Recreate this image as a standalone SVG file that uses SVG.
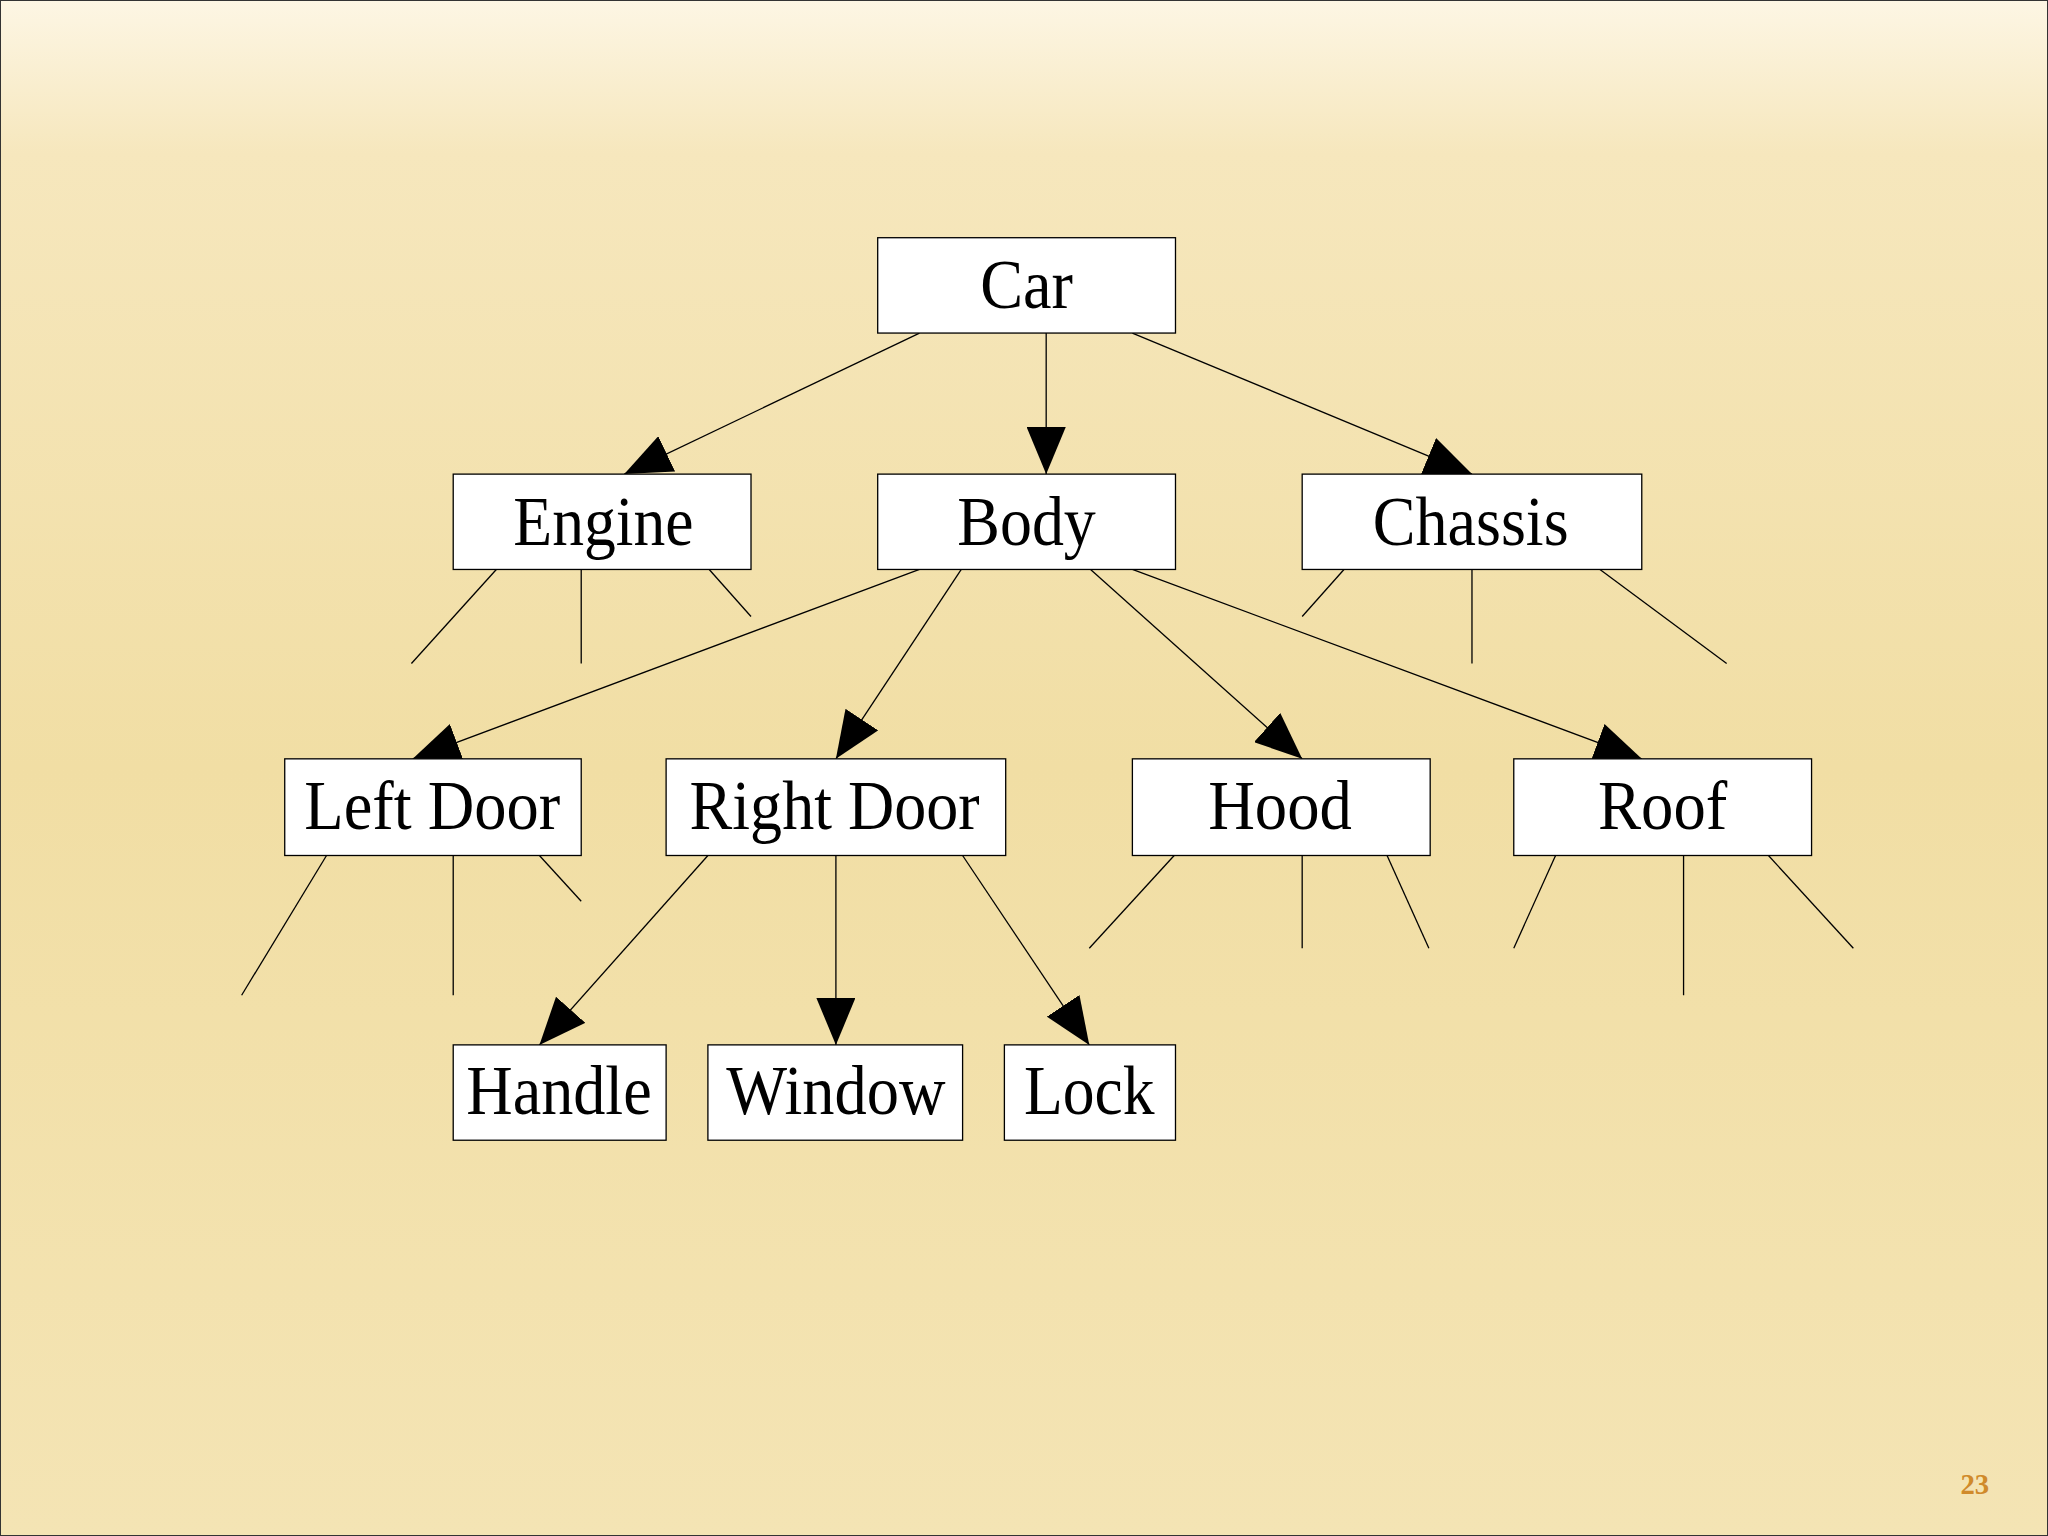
<svg xmlns="http://www.w3.org/2000/svg" width="2048" height="1536" viewBox="0 0 2048 1536">
<defs>
<linearGradient id="bg" x1="0" y1="0" x2="0" y2="1">
<stop offset="0" stop-color="#fdf6e4"/>
<stop offset="0.1" stop-color="#f6e7bd"/>
<stop offset="0.5" stop-color="#f1dea4"/>
<stop offset="1" stop-color="#f4e4b4"/>
</linearGradient>
<marker id="ah" markerUnits="userSpaceOnUse" markerWidth="36" markerHeight="30" refX="36" refY="15" orient="auto">
<path d="M0,0 L36,15 L0,30 Z" fill="#000"/>
</marker>
<style>
.n rect{fill:#fff;stroke:#000;stroke-width:1}
.n text{font-family:"Liberation Serif","Times New Roman",serif;font-size:54px;text-anchor:middle;fill:#000}
.e line{stroke:#000;stroke-width:1}
.a line{marker-end:url(#ah)}
</style>
</defs>
<rect width="2048" height="1536" fill="url(#bg)" stroke="#333" stroke-width="2"/>
<g transform="scale(1.3061)">
<g id="connectors" class="e">
<g class="a">
<line x1="704" y1="255" x2="478" y2="363"/>
<line x1="801" y1="255" x2="801" y2="363"/>
<line x1="867" y1="255" x2="1127" y2="363"/>
<line x1="704" y1="436" x2="316" y2="581"/>
<line x1="736" y1="436" x2="640" y2="581"/>
<line x1="835" y1="436" x2="997" y2="581"/>
<line x1="867" y1="436" x2="1257" y2="581"/>
<line x1="542" y1="655" x2="413" y2="800"/>
<line x1="640" y1="655" x2="640" y2="800"/>
<line x1="737" y1="655" x2="834" y2="800"/>
</g>
<line x1="380" y1="436" x2="315" y2="508"/>
<line x1="445" y1="436" x2="445" y2="508"/>
<line x1="543" y1="436" x2="575" y2="472"/>
<line x1="1029" y1="436" x2="997" y2="472"/>
<line x1="1127" y1="436" x2="1127" y2="508"/>
<line x1="1225" y1="436" x2="1322" y2="508"/>
<line x1="250" y1="655" x2="185" y2="762"/>
<line x1="347" y1="655" x2="347" y2="762"/>
<line x1="413" y1="655" x2="445" y2="690"/>
<line x1="899" y1="655" x2="834" y2="726"/>
<line x1="997" y1="655" x2="997" y2="726"/>
<line x1="1062" y1="655" x2="1094" y2="726"/>
<line x1="1191" y1="655" x2="1159" y2="726"/>
<line x1="1289" y1="655" x2="1289" y2="762"/>
<line x1="1354" y1="655" x2="1419" y2="726"/>
</g>
<g id="car" class="n"><rect x="672" y="182" width="228" height="73"/><text x="786" y="236" textLength="71" lengthAdjust="spacingAndGlyphs">Car</text></g>
<g id="engine" class="n"><rect x="347" y="363" width="228" height="73"/><text x="462" y="417" textLength="138" lengthAdjust="spacingAndGlyphs">Engine</text></g>
<g id="body" class="n"><rect x="672" y="363" width="228" height="73"/><text x="786" y="417" textLength="106" lengthAdjust="spacingAndGlyphs">Body</text></g>
<g id="chassis" class="n"><rect x="997" y="363" width="260" height="73"/><text x="1126" y="417" textLength="150" lengthAdjust="spacingAndGlyphs">Chassis</text></g>
<g id="leftdoor" class="n"><rect x="218" y="581" width="227" height="74"/><text x="331" y="635" textLength="196" lengthAdjust="spacingAndGlyphs">Left Door</text></g>
<g id="rightdoor" class="n"><rect x="510" y="581" width="260" height="74"/><text x="639" y="635" textLength="222" lengthAdjust="spacingAndGlyphs">Right Door</text></g>
<g id="hood" class="n"><rect x="867" y="581" width="228" height="74"/><text x="980" y="635" textLength="110" lengthAdjust="spacingAndGlyphs">Hood</text></g>
<g id="roof" class="n"><rect x="1159" y="581" width="228" height="74"/><text x="1273" y="635" textLength="99" lengthAdjust="spacingAndGlyphs">Roof</text></g>
<g id="handle" class="n"><rect x="347" y="800" width="163" height="73"/><text x="428" y="853" textLength="142" lengthAdjust="spacingAndGlyphs">Handle</text></g>
<g id="window" class="n"><rect x="542" y="800" width="195" height="73"/><text x="640" y="853" textLength="168" lengthAdjust="spacingAndGlyphs">Window</text></g>
<g id="lock" class="n"><rect x="769" y="800" width="131" height="73"/><text x="834" y="853" textLength="100" lengthAdjust="spacingAndGlyphs">Lock</text></g>
<text x="1512" y="1144" font-family="Liberation Serif,serif" font-size="22" font-weight="bold" fill="#d08a2a" text-anchor="middle">23</text>
</g>
</svg>
